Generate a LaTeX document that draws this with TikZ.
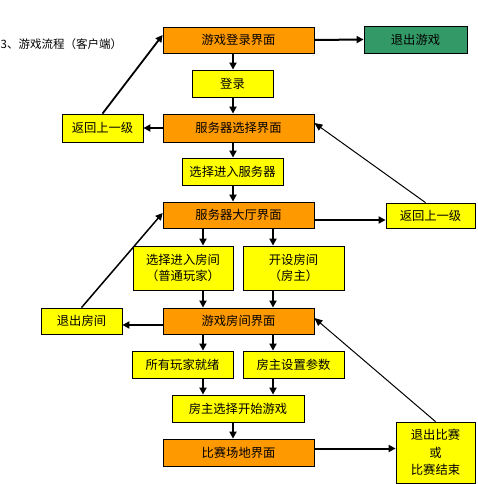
\documentclass[tikz,border=0pt]{standalone}
\usepackage{fontspec}
\newfontfamily\cjk{Noto Sans CJK SC}
\usetikzlibrary{arrows.meta}
\definecolor{boxorange}{RGB}{255,153,0}
\definecolor{boxyellow}{RGB}{255,255,0}
\definecolor{boxgreen}{RGB}{51,153,102}
\tikzset{
  x=1pt,y=-1pt,
  base/.style={draw=black,line width=0.8pt,inner sep=0pt,align=center,font=\cjk\fontsize{12.3}{16}\selectfont},
  obox/.style={base,fill=boxorange},
  ybox/.style={base,fill=boxyellow},
  gbox/.style={base,fill=boxgreen},
  arr/.style={line width=2pt,-{Triangle[length=7pt,width=7pt]}},
  thinarr/.style={line width=1pt,-{Triangle[length=8pt,width=7pt]}},
}
\begin{document}
\begin{tikzpicture}
\useasboundingbox (0,0) rectangle (477,484);
\node[anchor=west,font=\cjk\fontsize{11.5}{13}\selectfont,inner sep=0pt] (title) at (0.5,44) {3、游戏流程（客户端）};
\node[obox,minimum width=151pt,minimum height=26pt] (login) at (238.5,40) {游戏登录界面};
\node[gbox,minimum width=103pt,minimum height=27pt] (exit) at (415.5,39.5) {退出游戏};
\node[ybox,minimum width=81pt,minimum height=27pt] (denglu) at (232.5,83.5) {登录};
\node[ybox,minimum width=81pt,minimum height=28pt] (back1) at (102.5,128) {返回上一级};
\node[obox,minimum width=151pt,minimum height=28pt] (srvsel) at (238.5,128) {服务器选择界面};
\node[ybox,minimum width=101pt,minimum height=27pt] (selsrv) at (232.5,171.5) {选择进入服务器};
\node[obox,minimum width=151pt,minimum height=26pt] (hall) at (238.5,215) {服务器大厅界面};
\node[ybox,minimum width=89pt,minimum height=25pt] (back2) at (430.5,215.5) {返回上一级};
\node[ybox,minimum width=100pt,minimum height=44pt] (selroom) at (183,268) {选择进入房间\\（普通玩家）};
\node[ybox,minimum width=101pt,minimum height=44pt] (openroom) at (293.5,268) {开设房间\\（房主）};
\node[ybox,minimum width=81pt,minimum height=26pt] (quitroom) at (81.5,321) {退出房间};
\node[obox,minimum width=151pt,minimum height=26pt] (room) at (238.5,321) {游戏房间界面};
\node[ybox,minimum width=101pt,minimum height=27pt] (ready) at (182.5,364.5) {所有玩家就绪};
\node[ybox,minimum width=101pt,minimum height=27pt] (setparam) at (293.5,364.5) {房主设置参数};
\node[ybox,minimum width=132pt,minimum height=27pt] (start) at (238,408.5) {房主选择开始游戏};
\node[obox,minimum width=151pt,minimum height=27pt] (field) at (238.5,452.5) {比赛场地界面};
\node[ybox,minimum width=79pt,minimum height=61pt,font=\cjk\fontsize{12.3}{17.5}\selectfont] (endgame) at (435.5,452.5) {退出比赛\\或\\比赛结束};
\coordinate (cA) at (233,0);
\coordinate (cL) at (203,0);
\coordinate (cR) at (273,0);
% vertical flow
\draw[arr] (login.south -| cA) -- (denglu.north -| cA);
\draw[arr] (denglu.south -| cA) -- (srvsel.north -| cA);
\draw[arr] (srvsel.south -| cA) -- (selsrv.north -| cA);
\draw[arr] (selsrv.south -| cA) -- (hall.north -| cA);
\draw[arr] (hall.south -| cL) -- (selroom.north -| cL);
\draw[arr] (hall.south -| cR) -- (openroom.north -| cR);
\draw[arr] (selroom.south -| cL) -- (room.north -| cL);
\draw[arr] (openroom.south -| cR) -- (room.north -| cR);
\draw[arr] (room.south -| cL) -- (ready.north -| cL);
\draw[arr] (room.south -| cR) -- (setparam.north -| cR);
\draw[arr] (ready.south -| cL) -- (start.north -| cL);
\draw[arr] (setparam.south -| cR) -- (start.north -| cR);
\draw[arr] (start.south -| cA) -- (field.north -| cA);
% horizontal
\draw[arr] (login.east) -- (exit.west);
\draw[arr] (srvsel.west) -- (back1.east);
\draw[arr] ([yshift=-5pt]hall.east) -- ([yshift=-5pt]hall.east -| back2.west);
\draw[arr] ([yshift=-4pt]room.west) -- ([yshift=-4pt]room.west -| quitroom.east);
\draw[arr] ([yshift=4pt]field.east) -- ([yshift=4pt]field.east -| endgame.west);
% diagonals
\draw[arr,line width=1.8pt] (back1.north) -- ([yshift=5pt]login.west);
\draw[arr,line width=1.5pt] (quitroom.north) -- ([yshift=2pt]hall.west);
\draw[thinarr] ([xshift=-5pt]back2.north) -- ([yshift=5pt]srvsel.east);
\draw[thinarr] (endgame.north) -- ([yshift=3pt]room.east);
\end{tikzpicture}
\end{document}
